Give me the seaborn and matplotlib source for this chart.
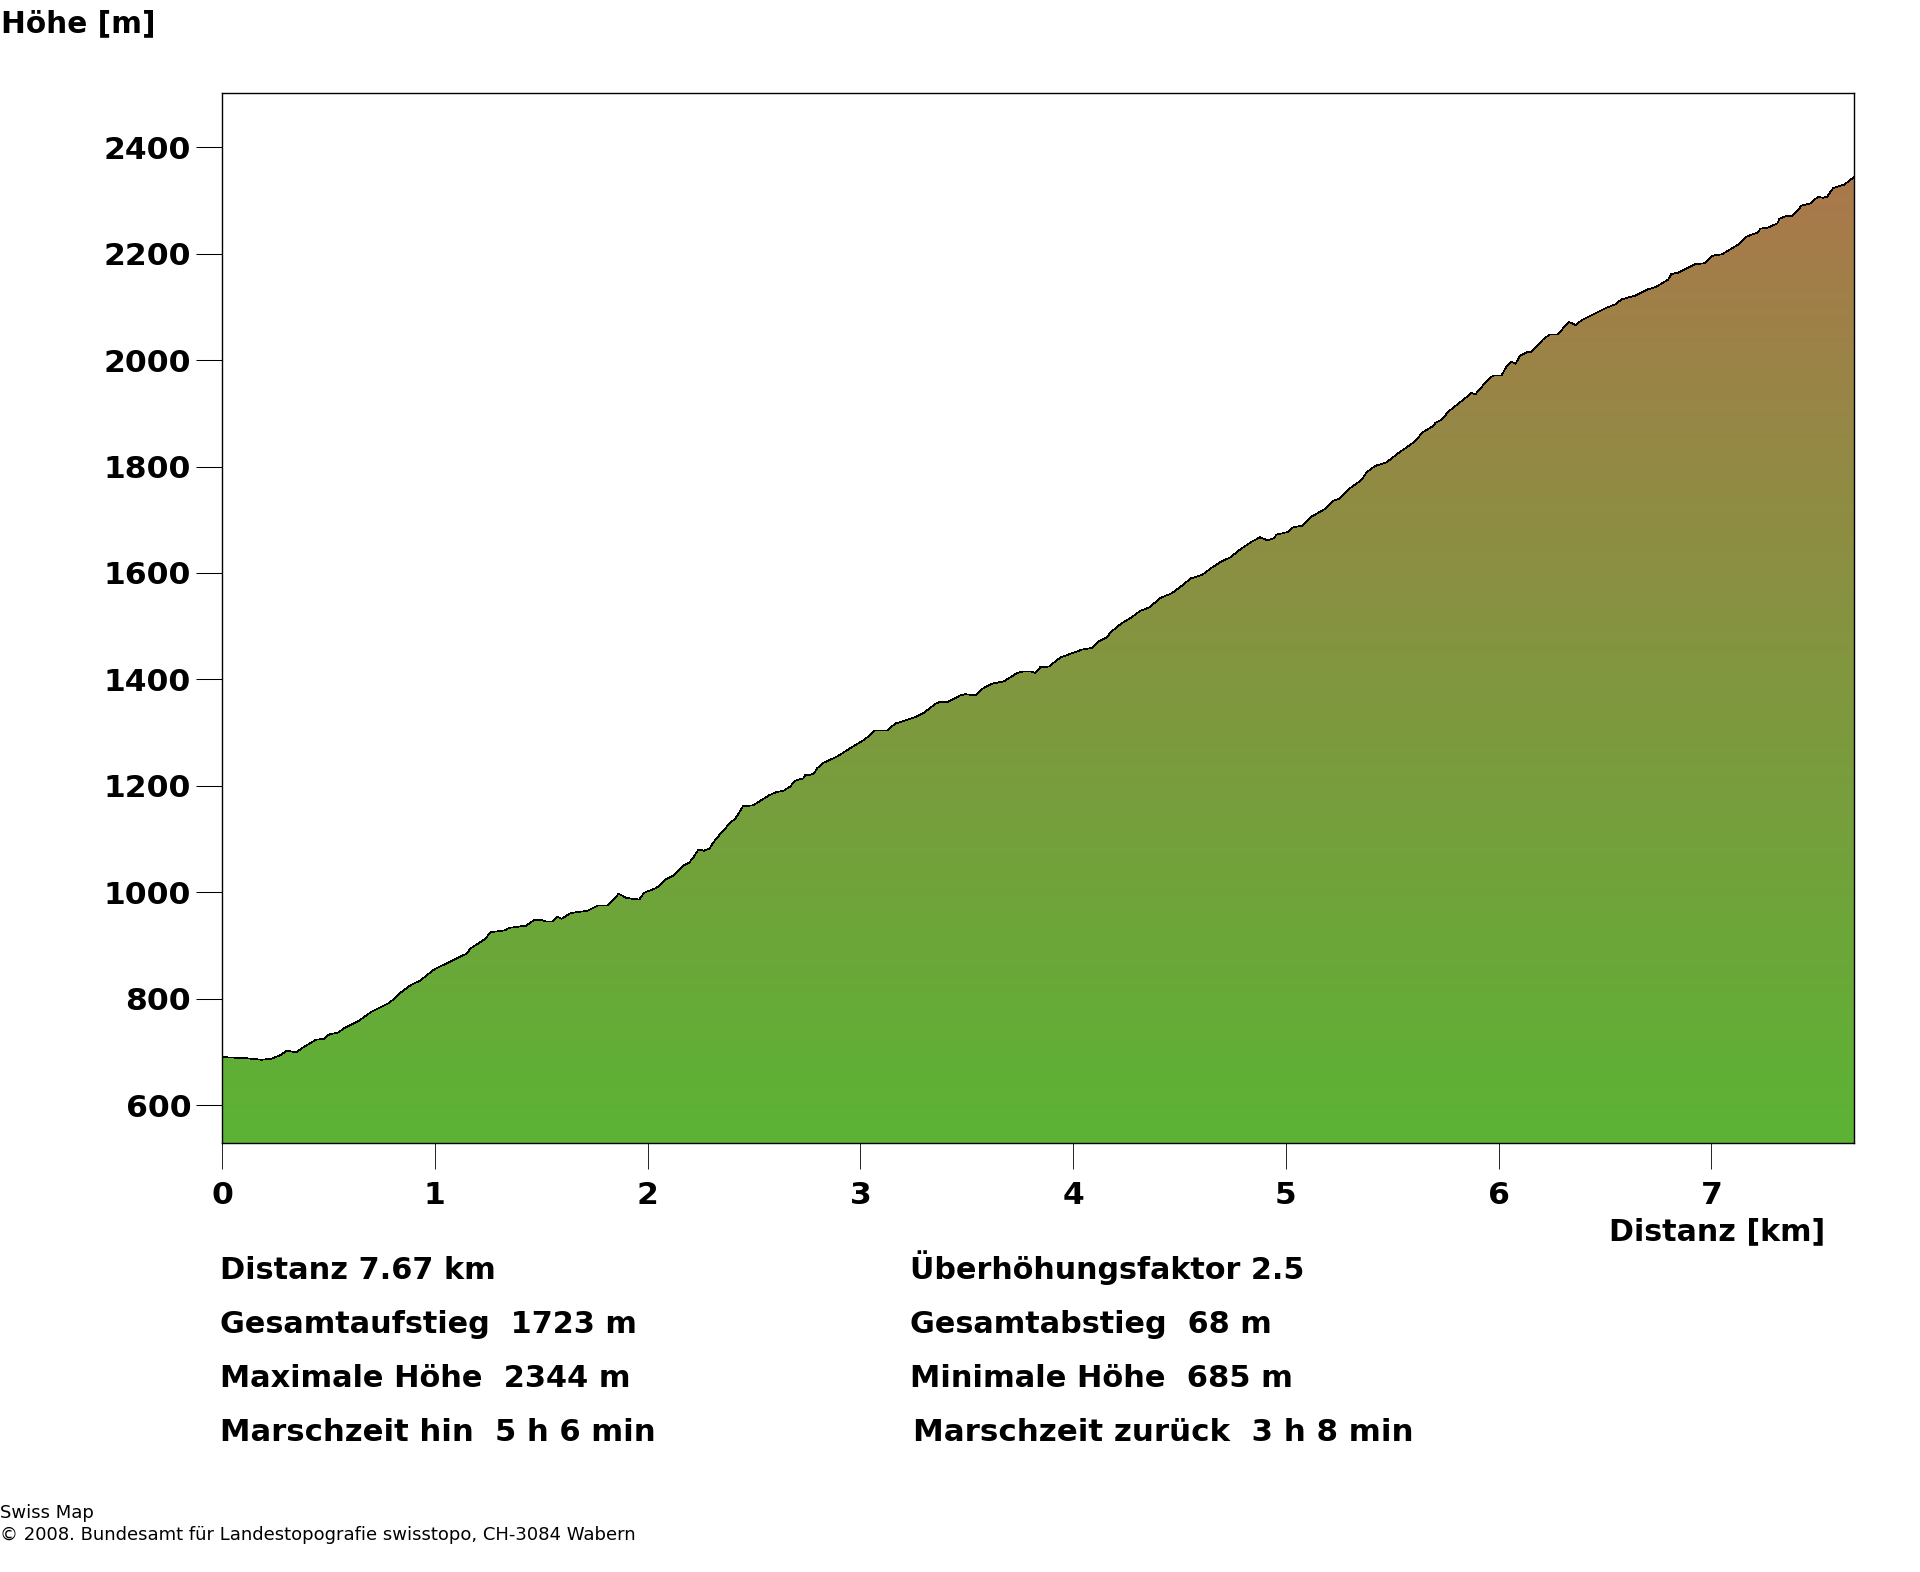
import numpy as np
import pandas as pd
import matplotlib
matplotlib.use("Agg")
import matplotlib.pyplot as plt
from matplotlib.colors import LinearSegmentedColormap
import seaborn as sns

distance_km = [0, .114, .185, .232, .271, .305, .349, .388, .443, .477, .505, .545, .576, .638, .701, .787, .842, .889, .928, .998,
    1.147, 1.171, 1.233, 1.264, 1.327, 1.351, 1.429, 1.468, 1.499, 1.523, 1.554, 1.577, 1.596, 1.640, 1.718, 1.768, 1.814, 1.864, 1.901, 1.961, 1.984,
    2.042, 2.086, 2.125, 2.172, 2.195, 2.218, 2.239, 2.265, 2.292, 2.308, 2.351, 2.391, 2.414, 2.449, 2.495, 2.531, 2.571, 2.605, 2.641, 2.672, 2.691, 2.732, 2.743, 2.762, 2.782, 2.797, 2.826, 2.891, 2.962,
    3.024, 3.068, 3.126, 3.165, 3.259, 3.298, 3.353, 3.377, 3.408, 3.447, 3.471, 3.494, 3.541, 3.580, 3.619, 3.674, 3.737, 3.768, 3.799, 3.823, 3.846, 3.886, 3.940, 3.995,
    4.042, 4.089, 4.120, 4.159, 4.175, 4.227, 4.269, 4.316, 4.358, 4.410, 4.465, 4.511, 4.554, 4.605, 4.652, 4.699, 4.738, 4.785, 4.840, 4.879, 4.915, 4.941, 4.957,
    5.009, 5.035, 5.079, 5.121, 5.187, 5.220, 5.254, 5.301, 5.356, 5.379, 5.419, 5.473, 5.528, 5.599, 5.646, 5.692, 5.703, 5.735, 5.763, 5.825, 5.872, 5.891, 5.943, 5.974,
    6.013, 6.037, 6.061, 6.079, 6.100, 6.139, 6.151, 6.209, 6.240, 6.275, 6.330, 6.345, 6.361, 6.389, 6.499, 6.549, 6.577, 6.640, 6.702, 6.737, 6.796, 6.812, 6.843, 6.921, 6.968,
    7.003, 7.050, 7.133, 7.164, 7.219, 7.230, 7.266, 7.310, 7.320, 7.360, 7.375, 7.406, 7.422, 7.469, 7.485, 7.503, 7.524, 7.544, 7.571, 7.625, 7.67]
elevation_m = [690, 688, 685, 687, 693, 702, 699, 710, 723, 724, 733, 736, 745, 757, 775, 792, 812, 826, 833, 855,
    884, 895, 911, 925, 928, 933, 937, 948, 948, 945, 945, 954, 950, 961, 965, 975, 975, 997, 989, 986, 999,
    1008, 1024, 1032, 1051, 1055, 1067, 1080, 1078, 1082, 1093, 1114, 1131, 1139, 1162, 1163, 1172, 1182, 1188, 1191, 1199, 1209, 1214, 1221, 1220, 1223, 1233, 1243, 1255, 1273,
    1288, 1304, 1304, 1317, 1329, 1337, 1354, 1358, 1357, 1365, 1370, 1372, 1370, 1384, 1392, 1396, 1412, 1415, 1415, 1412, 1423, 1424, 1441, 1449,
    1456, 1459, 1471, 1479, 1488, 1505, 1515, 1529, 1535, 1553, 1562, 1576, 1590, 1596, 1610, 1622, 1629, 1644, 1659, 1667, 1661, 1665, 1672,
    1677, 1686, 1689, 1706, 1721, 1735, 1740, 1759, 1775, 1789, 1801, 1808, 1825, 1845, 1865, 1876, 1882, 1889, 1903, 1923, 1938, 1936, 1960, 1971,
    1971, 1988, 1997, 1993, 2008, 2016, 2015, 2039, 2048, 2048, 2071, 2070, 2065, 2075, 2097, 2105, 2114, 2121, 2133, 2137, 2151, 2162, 2164, 2180, 2182,
    2196, 2199, 2219, 2232, 2240, 2247, 2249, 2257, 2266, 2272, 2270, 2281, 2290, 2295, 2302, 2307, 2305, 2307, 2323, 2330, 2344]
y_ticks = [600, 800, 1000, 1200, 1400, 1600, 1800, 2000, 2200, 2400]
x_ticks = [0, 1, 2, 3, 4, 5, 6, 7]
stats_left = ["Distanz 7.67 km", "Gesamtaufstieg  1723 m", "Maximale Höhe  2344 m", "Marschzeit hin  5 h 6 min"]
stats_right = ["Überhöhungsfaktor 2.5", "Gesamtabstieg  68 m", "Minimale Höhe  685 m", "Marschzeit zurück  3 h 8 min"]
credits = ["Swiss Map", "© 2008. Bundesamt für Landestopografie swisstopo, CH-3084 Wabern"]

W, H = 1920, 1572
sns.set_theme(style="white")
plt.rcParams["font.family"] = ["DejaVu Sans"]

fig = plt.figure(figsize=(W / 100, H / 100), dpi=100, facecolor="white")
ax = fig.add_axes([222.0 / W, 1 - 1143.0 / H, 1632 / W, 1050.0 / H])

df = pd.DataFrame({"Distanz": distance_km, "Höhe": elevation_m})
y_low, y_high = 528.6, 2502
under = y_low - 30
fill = ax.fill_between(df["Distanz"], df["Höhe"], under, facecolor="none", edgecolor="none")
cmap = LinearSegmentedColormap.from_list("terrain_profile", ["#5AB434", "#AA784B"])
grad = ax.imshow(np.linspace(1, 0, 512).reshape(-1, 1), extent=(-0.05, 7.72, under, 2344), aspect="auto",
                 cmap=cmap, vmin=0, vmax=1, zorder=1, interpolation="nearest")
grad.set_clip_path(fill.get_paths()[0], transform=ax.transData)
sns.lineplot(data=df, x="Distanz", y="Höhe", ax=ax, color="black", linewidth=0.5, estimator=None, errorbar=None,
             zorder=2, antialiased=False)
ax.set_xlim(0, 7.67)
ax.set_ylim(y_low, y_high)

ax.set_xlabel("")
ax.set_ylabel("")
ax.set_xticks(x_ticks)
ax.set_yticks(y_ticks)
ax.tick_params(axis="both", which="major", direction="out", length=18.7, width=0.75, color="black",
               labelsize=22.6, labelcolor="black", bottom=True, left=True)
ax.tick_params(axis="x", pad=8.5, width=0.6)
ax.tick_params(axis="y", pad=3.5)
for lab in ax.get_xticklabels() + ax.get_yticklabels():
    lab.set_fontweight("bold")
for s in ax.spines.values():
    s.set_visible(True)
    s.set_color("black")
    s.set_linewidth(1.0)
    s.set_zorder(5)

def put(x, y, text, size=21.9, weight="bold"):
    fig.text(x / W, 1 - y / H, text, fontsize=size, fontweight=weight, color="black", ha="left", va="baseline")

put(1, 32, "Höhe [m]", size=21.3)
put(1609, 1240, "Distanz [km]", size=21.7)
for y, a, b, sa, sb in zip([1279, 1333, 1387, 1441], stats_left, stats_right, [21.9, 21.8, 21.9, 22.1], [21.7, 21.8, 22.0, 22.2]):
    put(220, y, a, size=sa)
    put(913 if b.startswith("Marschzeit") else 910, y, b, size=sb)
put(0, 1518, credits[0], size=12.95, weight="normal")
put(0, 1540, credits[1], size=12.95, weight="normal")

fig.savefig("out.png", dpi=100, facecolor="white")
